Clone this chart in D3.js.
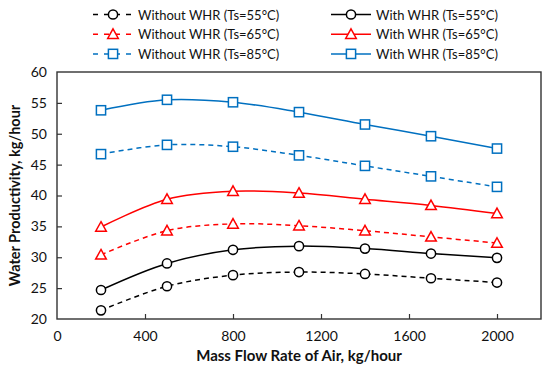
<!DOCTYPE html>
<html>
<head>
<meta charset="utf-8">
<script src="https://cdn.jsdelivr.net/npm/d3@7"></script>
<style>
body { margin: 0; background: #fff; }
text { font-family: Lato, "Liberation Sans", sans-serif; }
</style>
</head>
<body>
<script>
// data
var flowRates = [200, 500, 800, 1100, 1400, 1700, 2000]
var xTicks = [0, 400, 800, 1200, 1600, 2000]
var yTicks = [20, 25, 30, 35, 40, 45, 50, 55, 60]
var noWhr55 = [21.4, 25.3, 27.1, 27.6, 27.3, 26.6, 25.9]
var whr55 = [24.7, 29.0, 31.2, 31.8, 31.4, 30.6, 29.9]
var noWhr65 = [30.4, 34.3, 35.4, 35.1, 34.3, 33.3, 32.3]
var whr65 = [34.9, 39.4, 40.7, 40.4, 39.4, 38.4, 37.1]
var noWhr85 = [46.7, 48.2, 47.9, 46.5, 44.8, 43.1, 41.4]
var whr85 = [53.8, 55.5, 55.1, 53.5, 51.5, 49.6, 47.6]

var series = [
    {name: "Without WHR (Ts=55°C)", values: noWhr55, color: "#000", dashed: true, marker: "circle"},
    {name: "With WHR (Ts=55°C)", values: whr55, color: "#000", dashed: false, marker: "circle"},
    {name: "Without WHR (Ts=65°C)", values: noWhr65, color: "#ff0000", dashed: true, marker: "triangle"},
    {name: "With WHR (Ts=65°C)", values: whr65, color: "#ff0000", dashed: false, marker: "triangle"},
    {name: "Without WHR (Ts=85°C)", values: noWhr85, color: "#0070c0", dashed: true, marker: "square"},
    {name: "With WHR (Ts=85°C)", values: whr85, color: "#0070c0", dashed: false, marker: "square"}
]

var width = 550, height = 369
var margin = {left: 57, right: 9, top: 72, bottom: 50}

var svg = d3.select("body").append("svg")
    .attr("width", width)
    .attr("height", height)

var x = d3.scaleLinear()
    .domain([0, 2200])
    .range([margin.left, width - margin.right])

var y = d3.scaleLinear()
    .domain([20, 60])
    .range([height - margin.bottom, margin.top])

/* axes, ticks pointing inside */
var xAxis = svg.append("g")
    .attr("transform", "translate(0," + (height - margin.bottom) + ")")
    .call(d3.axisBottom(x).tickValues(xTicks).tickFormat(d3.format("d"))
        .tickSizeInner(-5).tickSizeOuter(0).tickPadding(12))
var yAxis = svg.append("g")
    .attr("transform", "translate(" + margin.left + ",0)")
    .call(d3.axisLeft(y).tickValues(yTicks).tickSizeInner(-5).tickSizeOuter(0).tickPadding(10))

svg.selectAll(".domain").remove()
svg.selectAll(".tick line").attr("stroke", "#333").attr("stroke-width", 1.2)
svg.selectAll(".tick text")
    .attr("font-size", "14px")
    .attr("fill", "#111")
    .style("font-family", "Lato, sans-serif")
// hide tick marks at the box edges
xAxis.selectAll(".tick").filter(function(d) { return d == 0 }).select("line").remove()
yAxis.selectAll(".tick").filter(function(d) { return d == 20 || d == 60 }).select("line").remove()

svg.append("rect")
    .attr("x", margin.left)
    .attr("y", margin.top)
    .attr("width", width - margin.left - margin.right)
    .attr("height", height - margin.top - margin.bottom)
    .attr("fill", "none")
    .attr("stroke", "#333")
    .attr("stroke-width", 1.4)

/* axis titles */
svg.append("text")
    .attr("x", (margin.left + width - margin.right) / 2)
    .attr("y", 361)
    .attr("text-anchor", "middle")
    .attr("font-size", "15px")
    .attr("font-weight", "bold")
    .attr("fill", "#111")
    .text("Mass Flow Rate of Air, kg/hour")

svg.append("text")
    .attr("transform", "translate(20," + ((margin.top + height - margin.bottom) / 2) + ") rotate(-90)")
    .attr("text-anchor", "middle")
    .attr("font-size", "14.5px")
    .attr("font-weight", "bold")
    .attr("fill", "#111")
    .text("Water Productivity, kg/hour")

var line = d3.line()
    .x(function(d, i) { return x(flowRates[i]) })
    .y(function(d) { return y(d) })
    .curve(d3.curveCatmullRom.alpha(0.5))

function drawMarker(g, type, cx, cy, color) {
    if (type == "circle") {
        g.append("circle").attr("cx", cx).attr("cy", cy).attr("r", 4.6)
            .attr("fill", "#fff").attr("stroke", color).attr("stroke-width", 1.5)
    } else if (type == "square") {
        g.append("rect").attr("x", cx - 4.6).attr("y", cy - 4.6).attr("width", 9.2).attr("height", 9.2)
            .attr("fill", "#fff").attr("stroke", color).attr("stroke-width", 1.5)
    } else {
        var s = 5.3
        g.append("path")
            .attr("d", "M" + cx + "," + (cy - s) + "L" + (cx + s) + "," + (cy + s * 0.8) + "L" + (cx - s) + "," + (cy + s * 0.8) + "Z")
            .attr("fill", "#fff").attr("stroke", color).attr("stroke-width", 1.5)
    }
}

series.forEach(function(s) {
    var g = svg.append("g")
    g.append("path")
        .datum(s.values)
        .attr("d", line)
        .attr("fill", "none")
        .attr("stroke", s.color)
        .attr("stroke-width", 1.5)
        .attr("stroke-dasharray", s.dashed ? "5,4" : null)
    s.values.forEach(function(v, i) {
        drawMarker(g, s.marker, x(flowRates[i]), y(v), s.color)
    })
})

/* legend */
var legend = svg.append("g")
series.forEach(function(s, i) {
    var col = i % 2, row = Math.floor(i / 2)
    var lx = col == 0 ? 93 : 331
    var ly = 14.5 + row * 19.7
    var g = legend.append("g")
    g.append("line")
        .attr("x1", lx).attr("x2", lx + 40)
        .attr("y1", ly).attr("y2", ly)
        .attr("stroke", s.color)
        .attr("stroke-width", 1.5)
        .attr("stroke-dasharray", s.dashed ? "5,6" : null)
    drawMarker(g, s.marker, lx + 20, ly, s.color)
    g.append("text")
        .attr("x", lx + 45)
        .attr("y", ly + 5)
        .attr("font-size", "13px")
        .attr("fill", "#111")
        .text(s.name)
})
</script>
</body>
</html>
